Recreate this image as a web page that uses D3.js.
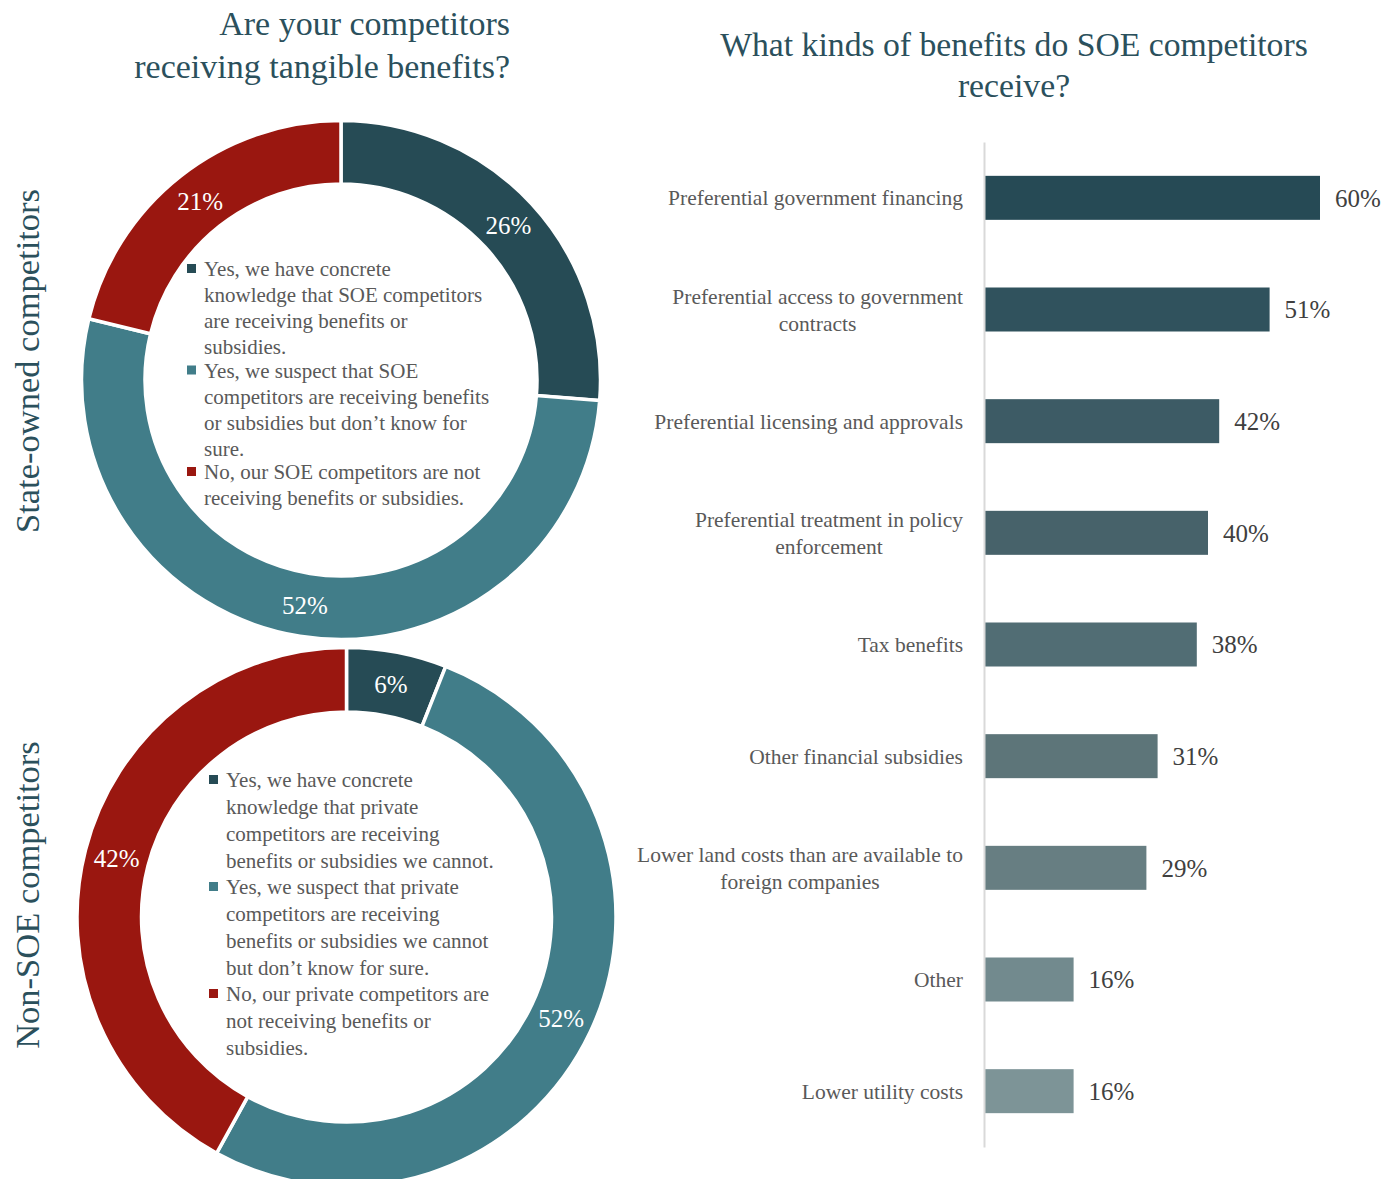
<!DOCTYPE html>
<html>
<head>
<meta charset="utf-8">
<script src="https://cdn.jsdelivr.net/npm/d3@7"></script>
<style>
  html, body { margin: 0; padding: 0; background: #fff; }
  svg { display: block; }
  text { font-family: "Liberation Serif", "DejaVu Serif", serif; }
</style>
</head>
<body>
<svg id="chart" width="1399" height="1179"></svg>
<script>
// ---- Donut data ----
const answerKeys = ["concrete", "suspect", "no"];
const answerColors = ["#264B55", "#417D89", "#9A1710"];
const soeValues = [26, 52, 21];
const privateValues = [6, 52, 42];

const soeLegend = [
  ["Yes, we have concrete", "knowledge that SOE competitors", "are receiving benefits or", "subsidies."],
  ["Yes, we suspect that SOE", "competitors are receiving benefits", "or subsidies but don\u2019t know for", "sure."],
  ["No, our SOE competitors are not", "receiving benefits or subsidies."]
];
const privateLegend = [
  ["Yes, we have concrete", "knowledge that private", "competitors are receiving", "benefits or subsidies we cannot."],
  ["Yes, we suspect that private", "competitors are receiving", "benefits or subsidies we cannot", "but don\u2019t know for sure."],
  ["No, our private competitors are", "not receiving benefits or", "subsidies."]
];

// ---- Bar data ----
const categories = [
  "Preferential government financing",
  "Preferential access to government contracts",
  "Preferential licensing and approvals",
  "Preferential treatment in policy enforcement",
  "Tax benefits",
  "Other financial subsidies",
  "Lower land costs than are available to foreign companies",
  "Other",
  "Lower utility costs"
];
const categoryLines = [
  ["Preferential government financing"],
  ["Preferential access to government", "contracts"],
  ["Preferential licensing and approvals"],
  ["Preferential treatment in policy", "enforcement"],
  ["Tax benefits"],
  ["Other financial subsidies"],
  ["Lower land costs than are available to", "foreign companies"],
  ["Other"],
  ["Lower utility costs"]
];
const benefitValues = [60, 51, 42, 40, 38, 31, 29, 16, 16];
const barColors = ["#264A55", "#30525D", "#3D5B65", "#47626A", "#516D74", "#5D7579", "#677E82", "#728A8E", "#7D9497"];

const titleColor = "#2B505C";
const textGray = "#595959";

const svg = d3.select("#chart");

// ---- Titles ----
const leftTitle = svg.append("text")
  .attr("text-anchor", "end")
  .attr("fill", titleColor)
  .style("font-size", "34px");
leftTitle.append("tspan").attr("x", 510).attr("y", 35).text("Are your competitors");
leftTitle.append("tspan").attr("x", 510).attr("y", 78).text("receiving tangible benefits?");

const rightTitle = svg.append("text")
  .attr("text-anchor", "middle")
  .attr("fill", titleColor)
  .style("font-size", "33.7px");
rightTitle.append("tspan").attr("x", 1014).attr("y", 56).text("What kinds of benefits do SOE competitors");
rightTitle.append("tspan").attr("x", 1014).attr("y", 97).text("receive?");

// ---- Row labels ----
function rowLabel(text, cy) {
  svg.append("text")
    .attr("transform", `translate(39,${cy}) rotate(-90)`)
    .attr("text-anchor", "middle")
    .attr("fill", titleColor)
    .style("font-size", "34.5px")
    .text(text);
}
rowLabel("State-owned competitors", 361);
rowLabel("Non-SOE competitors", 895);

// ---- Donuts ----
function donut(values, legend, cx, cy, rOuter, rInner, legendX, legendY, lineH, entryGap) {
  const pie = d3.pie().sort(null).value(d => d);
  const arc = d3.arc().innerRadius(rInner).outerRadius(rOuter);
  const g = svg.append("g").attr("transform", `translate(${cx},${cy})`);
  const arcs = pie(values);

  g.selectAll("path")
    .data(arcs)
    .join("path")
    .attr("d", arc)
    .attr("fill", (d, i) => answerColors[i])
    .attr("stroke", "#fff")
    .attr("stroke-width", 3.5);

  g.selectAll("text.val")
    .data(arcs)
    .join("text")
    .attr("class", "val")
    .attr("transform", d => `translate(${arc.centroid(d)})`)
    .attr("text-anchor", "middle")
    .attr("dy", "0.35em")
    .attr("fill", "#fff")
    .style("font-size", "25px")
    .text(d => d.data + "%");

  // legend inside the hole
  let y = legendY;
  legend.forEach((lines, i) => {
    svg.append("rect")
      .attr("x", legendX - 17)
      .attr("y", y - 12)
      .attr("width", 9)
      .attr("height", 9)
      .attr("fill", answerColors[i]);
    const t = svg.append("text")
      .attr("fill", textGray)
      .style("font-size", "21px");
    lines.forEach((ln, j) => {
      t.append("tspan").attr("x", legendX).attr("y", y + j * lineH).text(ln);
    });
    y += (lines.length - 1) * lineH + entryGap;
  });
}

donut(soeValues, soeLegend, 341, 380, 259.5, 196, 204, 276, 26, 23.5);
donut(privateValues, privateLegend, 346.5, 917, 269.5, 205, 226, 787, 27, 26);

// ---- Bar chart ----
const x = d3.scaleLinear().domain([0, 60]).range([984, 1320]);
const y = d3.scaleBand()
  .domain(categories)
  .range([142, 1147])
  .paddingInner(0.606)
  .paddingOuter(0.303);

const bars = svg.append("g");
bars.selectAll("rect")
  .data(categories)
  .join("rect")
  .attr("x", x(0))
  .attr("y", d => y(d))
  .attr("width", (d, i) => x(benefitValues[i]) - x(0))
  .attr("height", y.bandwidth())
  .attr("fill", (d, i) => barColors[i]);

bars.selectAll("text.value")
  .data(categories)
  .join("text")
  .attr("class", "value")
  .attr("x", (d, i) => x(benefitValues[i]) + 15)
  .attr("y", d => y(d) + y.bandwidth() / 2)
  .attr("dy", "0.35em")
  .attr("fill", "#404040")
  .style("font-size", "25px")
  .text((d, i) => benefitValues[i] + "%");

// category axis
const yAxis = svg.append("g")
  .attr("transform", `translate(${x(0)},0)`)
  .call(d3.axisLeft(y).tickSize(0).tickPadding(21));
yAxis.select(".domain")
  .attr("stroke", "#D9D9D9")
  .attr("stroke-width", 2);

yAxis.selectAll(".tick text").each(function (d) {
  const i = categories.indexOf(d);
  const lines = categoryLines[i];
  const t = d3.select(this)
    .attr("fill", textGray)
    .style("font-size", "21.5px")
    .style("font-family", '"Liberation Serif", serif')
    .text(null)
    .attr("dy", null);
  const spans = lines.map((ln, j) =>
    t.append("tspan").text(ln).attr("y", (j - (lines.length - 1) / 2) * 27).attr("dy", "0.35em"));
  if (lines.length > 1) {
    const widths = spans.map(s => s.node().getComputedTextLength());
    const blockW = Math.max(...widths);
    t.attr("text-anchor", "middle");
    spans.forEach(s => s.attr("x", -21 - blockW / 2));
  } else {
    spans.forEach(s => s.attr("x", -21));
  }
});
</script>
</body>
</html>
